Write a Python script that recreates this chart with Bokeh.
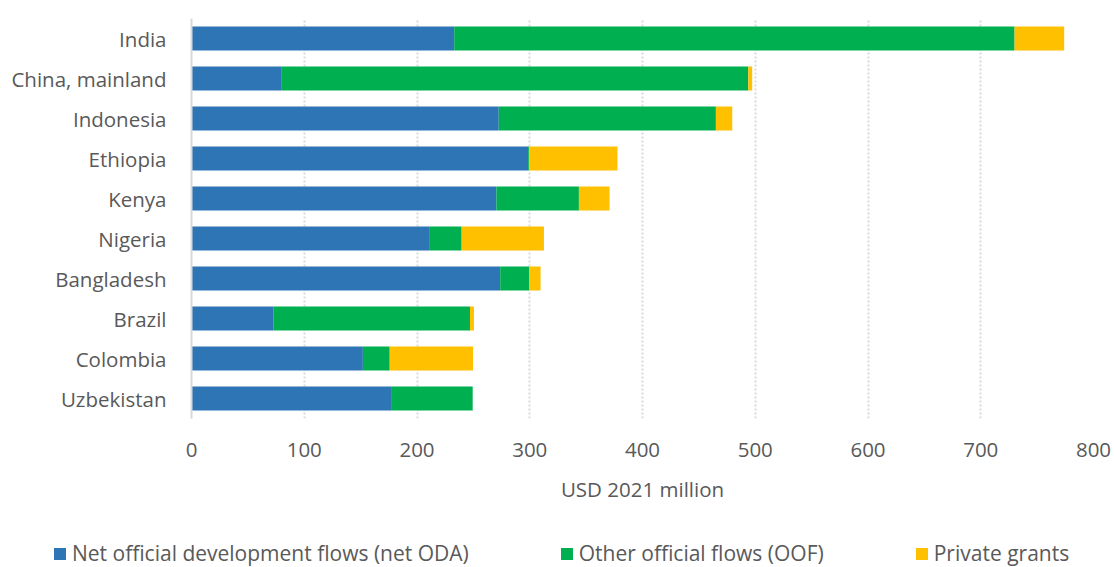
from bokeh.plotting import figure
from bokeh.layouts import column
from bokeh.models import FactorRange, Range1d, Legend, LegendItem, FixedTicker
from bokeh.embed import file_html
from bokeh.resources import INLINE

countries = ["India", "China, mainland", "Indonesia", "Ethiopia", "Kenya",
             "Nigeria", "Bangladesh", "Brazil", "Colombia", "Uzbekistan"]
net_oda = [233, 79.5, 272.5, 298.6, 270.4, 211.4, 273.8, 72.9, 152.0, 177.0]
oof = [497.0, 414.3, 192.6, 0.9, 73.2, 28.2, 25.7, 174.1, 23.8, 72.4]
private = [44.0, 3.5, 14.5, 78.3, 27.2, 73.0, 10.1, 3.5, 73.9, 0.0]

series = ["net_oda", "oof", "private"]
series_labels = ["Net official development flows (net ODA)",
                 "Other official flows (OOF)", "Private grants"]
colors = ["#2E75B6", "#00B050", "#FFC000"]
x_ticks = [0, 100, 200, 300, 400, 500, 600, 700, 800]

FONT = "Open Sans"
TXT = "#595959"

data = dict(country=countries, net_oda=net_oda, oof=oof, private=private)

p = figure(width=1114, height=534, output_backend="svg", toolbar_location=None,
           y_range=FactorRange(*reversed(countries), range_padding=0),
           x_range=Range1d(0, 800),
           min_border_left=191, min_border_right=21, min_border_top=18,
           min_border_bottom=116)
p.outline_line_color = None
p.frame_align = False

p.hbar_stack(series, y="country", height=0.6, color=colors,
             line_color=None, source=data)

p.xaxis.ticker = FixedTicker(ticks=x_ticks)
p.xaxis.axis_line_color = None
p.xaxis.major_tick_line_color = None
p.xaxis.minor_tick_line_color = None
p.xaxis.major_label_text_font = FONT
p.xaxis.major_label_text_font_size = "20.5px"
p.xaxis.major_label_text_color = TXT
p.xaxis.major_label_standoff = 18
p.xaxis.axis_label = "USD 2021 million"
p.xaxis.axis_label_text_font = FONT
p.xaxis.axis_label_text_font_size = "20.5px"
p.xaxis.axis_label_text_font_style = "normal"
p.xaxis.axis_label_text_color = TXT
p.xaxis.axis_label_standoff = 15

p.yaxis.axis_line_color = "#D9D9D9"
p.yaxis.axis_line_width = 2
p.yaxis.major_tick_line_color = None
p.yaxis.minor_tick_line_color = None
p.yaxis.major_label_text_font = FONT
p.yaxis.major_label_text_font_size = "20.5px"
p.yaxis.major_label_text_color = TXT
p.yaxis.major_label_standoff = 19

p.ygrid.grid_line_color = None
p.xgrid.grid_line_color = "#D9D9D9"
p.xgrid.grid_line_width = 2
p.xgrid.grid_line_dash = "2 2"

# legend strip (its bars lie outside its visible range; only the legend shows)
lg = figure(width=1114, height=33, output_backend="svg", toolbar_location=None,
            x_range=Range1d(-2000, -1000), y_range=FactorRange(*countries),
            x_axis_location=None, y_axis_location=None,
            min_border=0, min_border_left=0, min_border_right=0,
            min_border_top=0, min_border_bottom=0)
lg.outline_line_color = None
lg.frame_align = False
lg.xgrid.grid_line_color = None
lg.ygrid.grid_line_color = None
dummy = lg.hbar_stack(series, y="country", height=0.6, color=colors,
                      line_color=None, source=data)

legend = Legend(items=[LegendItem(label=l, renderers=[r])
                       for l, r in zip(series_labels, dummy)],
                orientation="horizontal", location=(52, 0),
                spacing=90, glyph_width=15, glyph_height=15, label_standoff=5,
                label_text_font=FONT, label_text_font_size="21px",
                label_text_color=TXT, padding=0, margin=0,
                border_line_color=None, background_fill_alpha=0)
lg.add_layout(legend, "center")

layout = column(p, lg, spacing=0)
open("out.html", "w").write(file_html(layout, INLINE))
